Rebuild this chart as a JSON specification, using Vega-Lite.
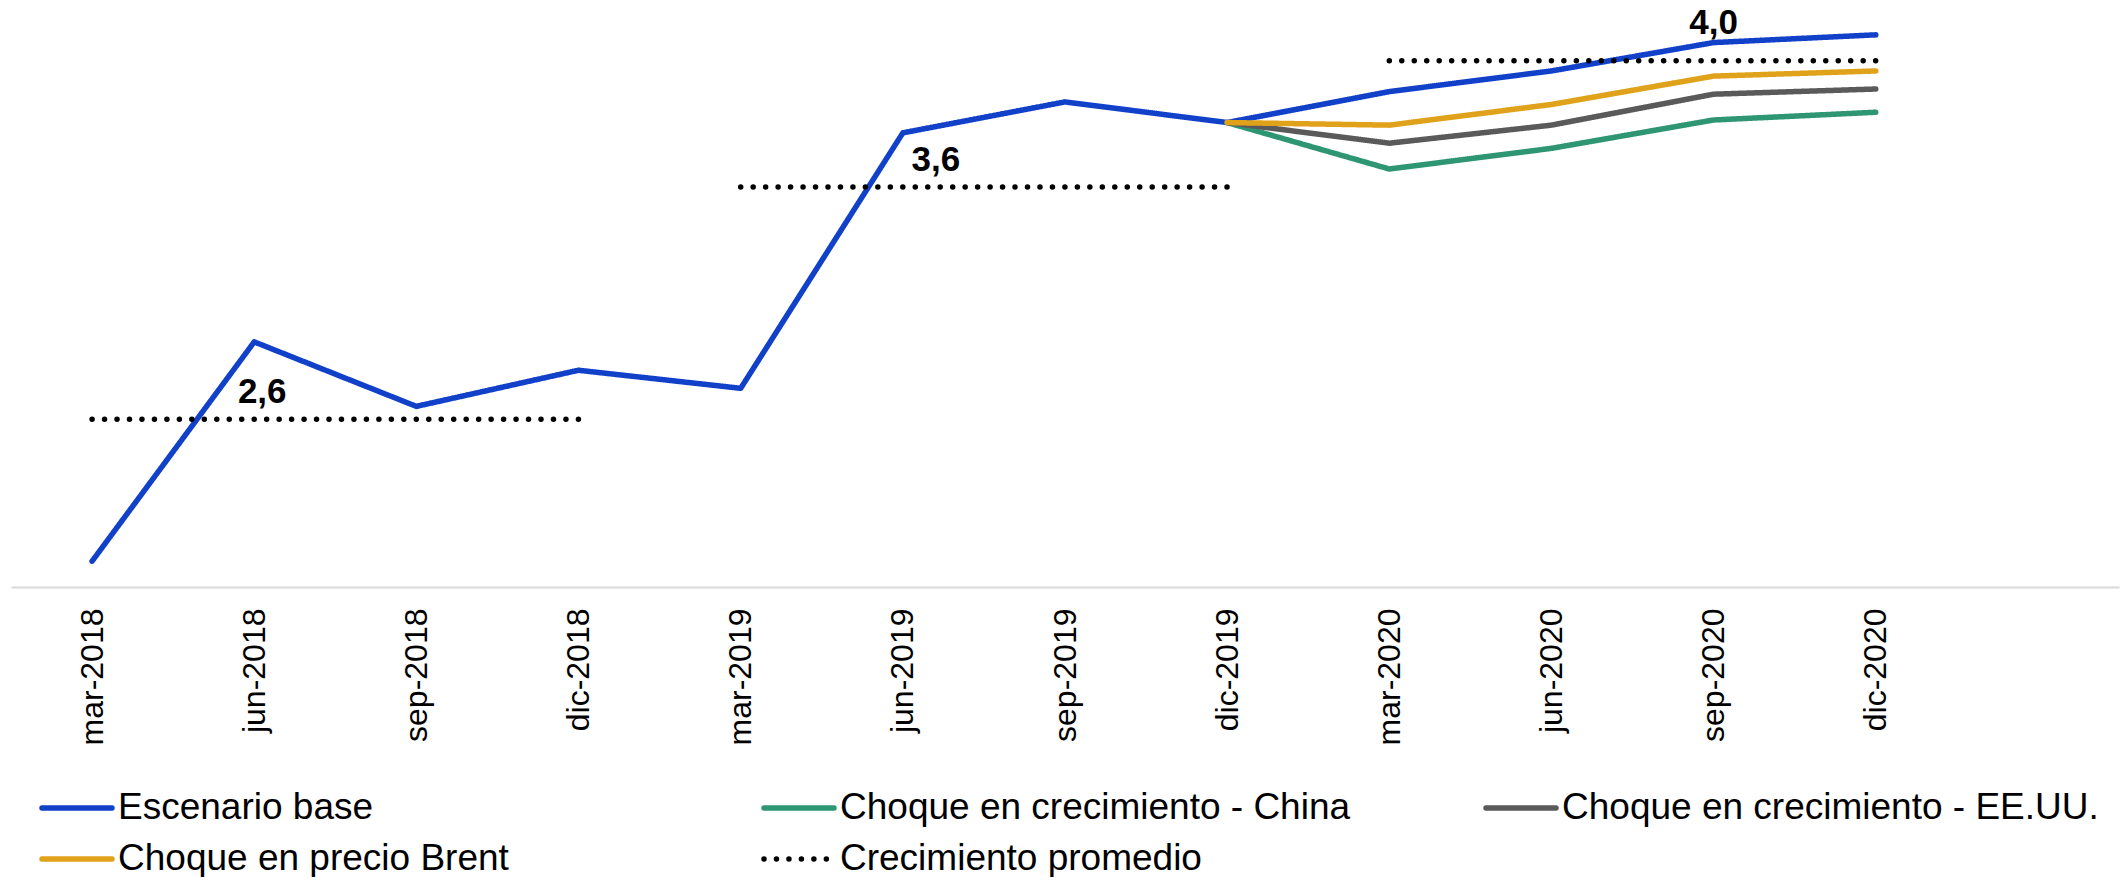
{
  "$schema": "https://vega.github.io/schema/vega-lite/v6.json",
  "width": 2108,
  "height": 587,
  "padding": {"left": 11, "top": 0, "right": 7, "bottom": 0},
  "autosize": {"type": "pad"},
  "background": "white",
  "config": {"view": {"stroke": null}, "font": "Liberation Sans"},
  "datasets": {
    "series": [
      {"serie": "Escenario base", "tramo": "base", "n": 1, "fecha": "mar-2018", "valor": 2.10},
      {"serie": "Escenario base", "tramo": "base", "n": 2, "fecha": "jun-2018", "valor": 2.95},
      {"serie": "Escenario base", "tramo": "base", "n": 3, "fecha": "sep-2018", "valor": 2.70},
      {"serie": "Escenario base", "tramo": "base", "n": 4, "fecha": "dic-2018", "valor": 2.84},
      {"serie": "Escenario base", "tramo": "base", "n": 5, "fecha": "mar-2019", "valor": 2.77},
      {"serie": "Escenario base", "tramo": "base", "n": 6, "fecha": "jun-2019", "valor": 3.76},
      {"serie": "Escenario base", "tramo": "base", "n": 7, "fecha": "sep-2019", "valor": 3.88},
      {"serie": "Escenario base", "tramo": "base", "n": 8, "fecha": "dic-2019", "valor": 3.80},
      {"serie": "Escenario base", "tramo": "base", "n": 9, "fecha": "mar-2020", "valor": 3.92},
      {"serie": "Escenario base", "tramo": "base", "n": 10, "fecha": "jun-2020", "valor": 4.00},
      {"serie": "Escenario base", "tramo": "base", "n": 11, "fecha": "sep-2020", "valor": 4.11},
      {"serie": "Escenario base", "tramo": "base", "n": 12, "fecha": "dic-2020", "valor": 4.14},
      {"serie": "Choque en crecimiento - China", "tramo": "china", "n": 8, "fecha": "dic-2019", "valor": 3.80},
      {"serie": "Choque en crecimiento - China", "tramo": "china", "n": 9, "fecha": "mar-2020", "valor": 3.62},
      {"serie": "Choque en crecimiento - China", "tramo": "china", "n": 10, "fecha": "jun-2020", "valor": 3.70},
      {"serie": "Choque en crecimiento - China", "tramo": "china", "n": 11, "fecha": "sep-2020", "valor": 3.81},
      {"serie": "Choque en crecimiento - China", "tramo": "china", "n": 12, "fecha": "dic-2020", "valor": 3.84},
      {"serie": "Choque en crecimiento - EE.UU.", "tramo": "eeuu", "n": 8, "fecha": "dic-2019", "valor": 3.80},
      {"serie": "Choque en crecimiento - EE.UU.", "tramo": "eeuu", "n": 9, "fecha": "mar-2020", "valor": 3.72},
      {"serie": "Choque en crecimiento - EE.UU.", "tramo": "eeuu", "n": 10, "fecha": "jun-2020", "valor": 3.79},
      {"serie": "Choque en crecimiento - EE.UU.", "tramo": "eeuu", "n": 11, "fecha": "sep-2020", "valor": 3.91},
      {"serie": "Choque en crecimiento - EE.UU.", "tramo": "eeuu", "n": 12, "fecha": "dic-2020", "valor": 3.93},
      {"serie": "Choque en precio Brent", "tramo": "brent", "n": 8, "fecha": "dic-2019", "valor": 3.80},
      {"serie": "Choque en precio Brent", "tramo": "brent", "n": 9, "fecha": "mar-2020", "valor": 3.79},
      {"serie": "Choque en precio Brent", "tramo": "brent", "n": 10, "fecha": "jun-2020", "valor": 3.87},
      {"serie": "Choque en precio Brent", "tramo": "brent", "n": 11, "fecha": "sep-2020", "valor": 3.98},
      {"serie": "Choque en precio Brent", "tramo": "brent", "n": 12, "fecha": "dic-2020", "valor": 4.00},
      {"serie": "Crecimiento promedio", "tramo": "2018", "n": 1, "fecha": "mar-2018", "valor": 2.65},
      {"serie": "Crecimiento promedio", "tramo": "2018", "n": 4, "fecha": "dic-2018", "valor": 2.65},
      {"serie": "Crecimiento promedio", "tramo": "2019", "n": 5, "fecha": "mar-2019", "valor": 3.55},
      {"serie": "Crecimiento promedio", "tramo": "2019", "n": 8, "fecha": "dic-2019", "valor": 3.55},
      {"serie": "Crecimiento promedio", "tramo": "2020", "n": 9, "fecha": "mar-2020", "valor": 4.04},
      {"serie": "Crecimiento promedio", "tramo": "2020", "n": 12, "fecha": "dic-2020", "valor": 4.04}
    ],
    "etiquetas": [
      {"fecha": "jun-2018", "valor": 2.65, "etiqueta": "2,6"},
      {"fecha": "jun-2019", "valor": 3.55, "etiqueta": "3,6"},
      {"fecha": "sep-2020", "valor": 4.04, "etiqueta": "4,0"}
    ]
  },
  "encoding": {
    "x": {
      "field": "fecha",
      "type": "ordinal",
      "scale": {
        "type": "point",
        "padding": 0.5,
        "domain": ["mar-2018", "jun-2018", "sep-2018", "dic-2018", "mar-2019", "jun-2019", "sep-2019", "dic-2019", "mar-2020", "jun-2020", "sep-2020", "dic-2020", " "]
      },
      "axis": {
        "title": null,
        "labelAngle": -90,
        "labelFontSize": 32,
        "labelFont": "Liberation Sans",
        "labelColor": "black",
        "ticks": false,
        "tickSize": 0,
        "labelPadding": 21,
        "domainColor": "#d9d9d9",
        "domainWidth": 2,
        "grid": false,
        "labelOverlap": false
      }
    },
    "y": {
      "field": "valor",
      "type": "quantitative",
      "scale": {"domain": [2.0, 4.275], "nice": false, "zero": false},
      "axis": null
    }
  },
  "layer": [
    {
      "data": {"name": "series"},
      "mark": {"type": "line", "strokeWidth": 5.5, "strokeCap": "round", "strokeJoin": "round"},
      "encoding": {
        "color": {
          "field": "serie",
          "type": "nominal",
          "scale": {
            "domain": ["Escenario base", "Choque en crecimiento - China", "Choque en crecimiento - EE.UU.", "Choque en precio Brent", "Crecimiento promedio"],
            "range": ["#1241c9", "#2e9673", "#5a5a5a", "#e1a21b", "#000000"]
          },
          "legend": {
            "title": null,
            "orient": "none",
            "legendX": 28,
            "legendY": 790,
            "direction": "horizontal",
            "columns": 3,
            "gridAlign": "all",
            "columnPadding": 106,
            "rowPadding": 14,
            "clipHeight": 36,
            "padding": 0,
            "symbolType": "stroke",
            "symbolSize": 4900,
            "symbolStrokeWidth": 5.5,
            "labelFont": "Liberation Sans",
            "labelFontSize": 37,
            "labelColor": "black",
            "labelOffset": 3,
            "labelLimit": 0,
            "symbolLimit": 0,
            "encode": {"symbols": {"update": {"strokeCap": {"value": "round"}}}}
          }
        },
        "strokeDash": {
          "field": "serie",
          "type": "nominal",
          "scale": {
            "domain": ["Escenario base", "Choque en crecimiento - China", "Choque en crecimiento - EE.UU.", "Choque en precio Brent", "Crecimiento promedio"],
            "range": [[1, 0], [1, 0], [1, 0], [1, 0], [0.01, 12.46]]
          }
        },
        "detail": {"field": "tramo", "type": "nominal"},
        "order": {"field": "n", "type": "quantitative"}
      }
    },
    {
      "data": {"name": "etiquetas"},
      "transform": [{"filter": "datum.etiqueta == '2,6'"}],
      "mark": {"type": "text", "dx": 8, "dy": -16, "align": "center", "baseline": "alphabetic", "font": "Liberation Sans", "fontWeight": "bold", "fontSize": 35, "color": "black"},
      "encoding": {"text": {"field": "etiqueta", "type": "nominal"}}
    },
    {
      "data": {"name": "etiquetas"},
      "transform": [{"filter": "datum.etiqueta == '3,6'"}],
      "mark": {"type": "text", "dx": 33, "dy": -16, "align": "center", "baseline": "alphabetic", "font": "Liberation Sans", "fontWeight": "bold", "fontSize": 35, "color": "black"},
      "encoding": {"text": {"field": "etiqueta", "type": "nominal"}}
    },
    {
      "data": {"name": "etiquetas"},
      "transform": [{"filter": "datum.etiqueta == '4,0'"}],
      "mark": {"type": "text", "dx": 0, "dy": -27, "align": "center", "baseline": "alphabetic", "font": "Liberation Sans", "fontWeight": "bold", "fontSize": 35, "color": "black"},
      "encoding": {"text": {"field": "etiqueta", "type": "nominal"}}
    }
  ]
}
